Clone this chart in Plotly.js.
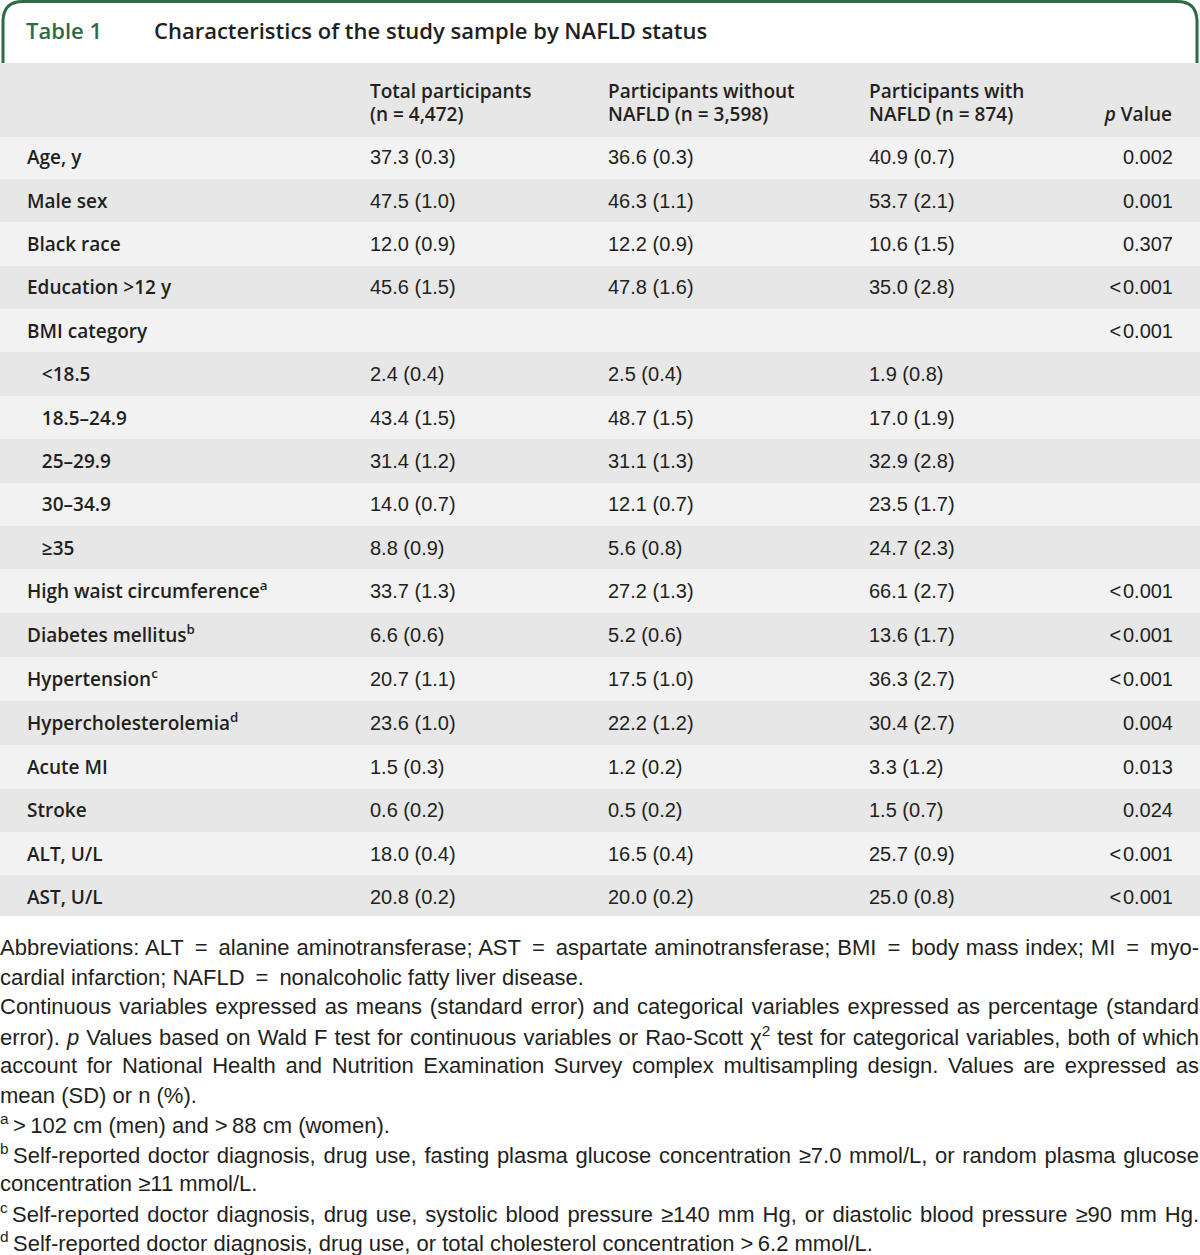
<!DOCTYPE html>
<html>
<head>
<meta charset="utf-8">
<script src="https://cdn.plot.ly/plotly-3.0.1.min.js"></script>
<style>
  html, body { margin: 0; padding: 0; background: #ffffff; }
  #chart { width: 1200px; height: 1255px; }
</style>
</head>
<body>
<div id="chart"></div>
<script>
// ---------- data ----------
var tableNo = 'Table 1';
var tableTitle = 'Characteristics of the study sample by NAFLD status';

var headers = ['Total participants<br>(n = 4,472)', 'Participants without<br>NAFLD (n = 3,598)', 'Participants with<br>NAFLD (n = 874)', '<i>p</i> Value'];

var mainLabels = ['Age, y', 'Male sex', 'Black race', 'Education &gt;12 y', 'BMI category'];
var bmiLabels = ['&lt;18.5', '18.5–24.9', '25–29.9', '30–34.9', '≥35'];
var laterLabels = ['High waist circumference<sup>a</sup>', 'Diabetes mellitus<sup>b</sup>', 'Hypertension<sup>c</sup>',
  'Hypercholesterolemia<sup>d</sup>', 'Acute MI', 'Stroke', 'ALT, U/L', 'AST, U/L'];

var totalVals = ['37.3 (0.3)', '47.5 (1.0)', '12.0 (0.9)', '45.6 (1.5)', '',
  '2.4 (0.4)', '43.4 (1.5)', '31.4 (1.2)', '14.0 (0.7)', '8.8 (0.9)',
  '33.7 (1.3)', '6.6 (0.6)', '20.7 (1.1)', '23.6 (1.0)', '1.5 (0.3)', '0.6 (0.2)', '18.0 (0.4)', '20.8 (0.2)'];
var withoutVals = ['36.6 (0.3)', '46.3 (1.1)', '12.2 (0.9)', '47.8 (1.6)', '',
  '2.5 (0.4)', '48.7 (1.5)', '31.1 (1.3)', '12.1 (0.7)', '5.6 (0.8)',
  '27.2 (1.3)', '5.2 (0.6)', '17.5 (1.0)', '22.2 (1.2)', '1.2 (0.2)', '0.5 (0.2)', '16.5 (0.4)', '20.0 (0.2)'];
var withVals = ['40.9 (0.7)', '53.7 (2.1)', '10.6 (1.5)', '35.0 (2.8)', '',
  '1.9 (0.8)', '17.0 (1.9)', '32.9 (2.8)', '23.5 (1.7)', '24.7 (2.3)',
  '66.1 (2.7)', '13.6 (1.7)', '36.3 (2.7)', '30.4 (2.7)', '3.3 (1.2)', '1.5 (0.7)', '25.7 (0.9)', '25.0 (0.8)'];
var pVals = ['0.002', '0.001', '0.307', '&lt;0.001', '&lt;0.001',
  '', '', '', '', '',
  '&lt;0.001', '&lt;0.001', '&lt;0.001', '0.004', '0.013', '0.024', '&lt;0.001', '&lt;0.001'];

var footnotes = [
  'Abbreviations: ALT = alanine aminotransferase; AST = aspartate aminotransferase; BMI = body mass index; MI = myo-',
  'cardial infarction; NAFLD = nonalcoholic fatty liver disease.',
  'Continuous variables expressed as means (standard error) and categorical variables expressed as percentage (standard',
  'error). <i>p</i> Values based on Wald F test for continuous variables or Rao-Scott χ<sup>2</sup> test for categorical variables, both of which',
  'account for National Health and Nutrition Examination Survey complex multisampling design. Values are expressed as',
  'mean (SD) or n (%).',
  '<sup>a</sup>\u2009&gt;102 cm (men) and &gt;88 cm (women).',
  '<sup>b</sup>\u2009Self-reported doctor diagnosis, drug use, fasting plasma glucose concentration ≥7.0 mmol/L, or random plasma glucose',
  'concentration ≥11 mmol/L.',
  '<sup>c</sup>\u2009Self-reported doctor diagnosis, drug use, systolic blood pressure ≥140 mm Hg, or diastolic blood pressure ≥90 mm Hg.',
  '<sup>d</sup>\u2009Self-reported doctor diagnosis, drug use, or total cholesterol concentration &gt;6.2 mmol/L.'
];
var justifyLine = [true, false, true, true, true, false, false, true, false, true, false];

// ---------- build ----------
var W = 1200, H = 1255;
var GREEN = '#2e6a47', TEXT = '#231f20', DARK = '#e6e7e6', LIGHT = '#f2f2f2';
var LABEL_FONT = '"Open Sans", Lato, sans-serif';
var VALUE_FONT = '"Liberation Sans", Arial, sans-serif';

// math-style spacing around relation signs, as typeset in the source
function mathSpace(s) {
  return s.replace(/ = /g, '\u2002=\u2002').replace(/&gt;/g, '&gt;\u2009').replace(/&lt;/g, '\u2009&lt;\u200a');
}

var labels = mainLabels.concat(bmiLabels.map(function (s) { return '\u00a0\u00a0\u00a0' + s; })).concat(laterLabels);
var nRows = labels.length;
var blank = labels.map(function () { return ''; });
var rowFill = labels.map(function (_, i) { return i % 2 === 0 ? LIGHT : DARK; });
var pShown = pVals.map(mathSpace);

var tableTop = 63, tableBottom = 917, headerH = 73;
var rowH = (tableBottom - tableTop - headerH) / nRows;

var trace = {
  type: 'table',
  domain: { x: [0, 1], y: [1 - tableBottom / H, 1 - tableTop / H] },
  columnwidth: [19, 343, 238, 261, 175, 145, 19],
  header: {
    values: ['', '', headers[0], headers[1], headers[2], headers[3], ''],
    align: ['left', 'left', 'left', 'left', 'left', 'right', 'left'],
    height: headerH,
    fill: { color: DARK },
    line: { color: DARK, width: 1 },
    font: { family: LABEL_FONT, size: 19, color: TEXT, weight: 600 }
  },
  cells: {
    values: [blank, labels, totalVals, withoutVals, withVals, pShown, blank],
    align: ['left', 'left', 'left', 'left', 'left', 'right', 'left'],
    height: rowH,
    fill: { color: [rowFill, rowFill, rowFill, rowFill, rowFill, rowFill, rowFill] },
    line: { color: [rowFill, rowFill, rowFill, rowFill, rowFill, rowFill, rowFill], width: 1 },
    font: {
      family: [LABEL_FONT, LABEL_FONT, VALUE_FONT, VALUE_FONT, VALUE_FONT, VALUE_FONT, VALUE_FONT],
      size: [19, 19, 20, 20, 20, 20, 20],
      weight: [600, 600, 400, 400, 400, 400, 400],
      color: TEXT
    }
  }
};

function px(x) { return x / W; }
function py(y) { return 1 - y / H; }

var r = 20;
var boxPath = 'M ' + px(3) + ',' + py(63) +
  ' L ' + px(3) + ',' + py(1.5 + r) +
  ' Q ' + px(3) + ',' + py(1.5) + ' ' + px(3 + r) + ',' + py(1.5) +
  ' L ' + px(W - 3 - r) + ',' + py(1.5) +
  ' Q ' + px(W - 3) + ',' + py(1.5) + ' ' + px(W - 3) + ',' + py(1.5 + r) +
  ' L ' + px(W - 3) + ',' + py(63);

var shapes = [{
  type: 'path', xref: 'paper', yref: 'paper', path: boxPath,
  line: { color: GREEN, width: 3 }
}];

var annotations = [
  { text: tableNo, x: px(24), y: py(30), xref: 'paper', yref: 'paper',
    xanchor: 'left', yanchor: 'middle', showarrow: false,
    font: { family: LABEL_FONT, size: 22, color: GREEN, weight: 600 } },
  { text: tableTitle, x: px(152), y: py(30), xref: 'paper', yref: 'paper',
    xanchor: 'left', yanchor: 'middle', showarrow: false,
    font: { family: LABEL_FONT, size: 22, color: TEXT, weight: 600 } }
];
var footTop = 948, footStep = 29.4;
footnotes.forEach(function (t, i) {
  annotations.push({
    text: mathSpace(t), x: px(-2), y: py(footTop + i * footStep), xref: 'paper', yref: 'paper',
    xanchor: 'left', yanchor: 'middle', showarrow: false, align: 'left',
    font: { family: VALUE_FONT, size: 22, color: TEXT }
  });
});

var layout = {
  width: W, height: H,
  margin: { l: 0, r: 0, t: 0, b: 0, pad: 0 },
  paper_bgcolor: '#ffffff',
  plot_bgcolor: '#ffffff',
  shapes: shapes,
  annotations: annotations,
  showlegend: false
};

function baselineScreenY(t) {
  var p = t.getStartPositionOfChar(0);
  var m = t.getScreenCTM();
  return p.x * m.b + p.y * m.d + m.f;
}

function placeCellText(gd) {
  var texts = gd.querySelectorAll('text.cell-text');
  texts.forEach(function (t) {
    if (!t.getNumberOfChars || t.getNumberOfChars() === 0) return;
    var cell = t.closest('.column-cell');
    var rect = cell && cell.querySelector('rect.cell-rect');
    if (!rect) return;
    var top = rect.getBoundingClientRect().top;
    var isHeader = Math.abs(top - tableTop) < 2;
    var lines = t.querySelectorAll('tspan.line');
    var want;
    if (isHeader) {
      for (var i = 1; i < lines.length; i++) lines[i].setAttribute('dy', (i * 22.5) + 'px');
      want = top + (lines.length > 1 ? 35.3 : 57.8);
    } else {
      want = top + 28.3;
    }
    var shift = want - baselineScreenY(t);
    var prev = t.getAttribute('transform') || '';
    t.setAttribute('transform', prev + ' translate(0,' + shift.toFixed(2) + ')');
  });
}

function justifyFootnotes(gd) {
  var nTitle = 2;
  gd.querySelectorAll('.annotation').forEach(function (g) {
    var idx = +g.getAttribute('data-index') - nTitle;
    if (idx < 0 || !justifyLine[idx]) return;
    var t = g.querySelector('text.annotation-text');
    if (!t) return;
    var w = t.getComputedTextLength();
    var spaces = (t.textContent.match(/ /g) || []).length;
    var left = t.getBoundingClientRect().left;
    var target = W - 1 - left;
    if (spaces > 0 && target > w) t.style.wordSpacing = ((target - w) / spaces) + 'px';
  });
}

Plotly.newPlot('chart', [trace], layout, { displayModeBar: false, staticPlot: true }).then(function (gd) {
  placeCellText(gd);
  justifyFootnotes(gd);
});
</script>
</body>
</html>
